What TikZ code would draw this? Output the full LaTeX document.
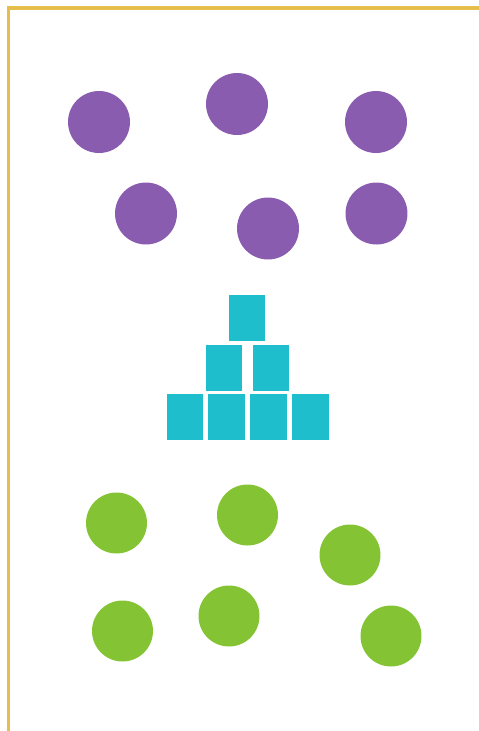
\documentclass[tikz,border=0pt]{standalone}
\usepackage{xcolor}
\usetikzlibrary{positioning}

\definecolor{dotpurple}{RGB}{138,92,175}
\definecolor{boxteal}{RGB}{30,190,205}
\definecolor{dotgreen}{RGB}{132,196,52}
\definecolor{framegold}{RGB}{230,190,75}

\begin{document}
\begin{tikzpicture}[
  x=0.02cm, y=-0.02cm,
  pdot/.style={circle, fill=dotpurple, minimum size=1.24cm, inner sep=0pt},
  gdot/.style={circle, fill=dotgreen, minimum size=1.22cm, inner sep=0pt},
  sq/.style={rectangle, fill=boxteal, minimum width=0.74cm, minimum height=0.92cm, inner sep=0pt},
  node distance=0.6mm and 0.86mm
]
\useasboundingbox (0,0) rectangle (479,731);

% ===== FRAME =====
\draw[framegold, line width=2pt] (8.5,731) -- (8.5,8) -- (479,8);

% ===== PURPLE DOTS =====
\node[pdot] (pu_1) at (99,122) {};
\node[pdot] (pu_2) at (237,104) {};
\node[pdot] (pu_3) at (376,122) {};
\node[pdot] (pu_4) at (146,213.5) {};
\node[pdot] (pu_5) at (268,228.5) {};
\node[pdot] (pu_6) at (376.5,213.5) {};

% ===== SQUARE PYRAMID =====
\node[sq] (sq_b1) at (185,417) {};
\node[sq, right=of sq_b1] (sq_b2) {};
\node[sq, right=of sq_b2] (sq_b3) {};
\node[sq, right=of sq_b3] (sq_b4) {};
\node[sq] (sq_m1) at (224,367.5) {};
\node[sq] (sq_m2) at (271,367.5) {};
\node[sq] (sq_top) at (247,318) {};

% ===== GREEN DOTS =====
\node[gdot] (gr_1) at (116.5,523) {};
\node[gdot] (gr_2) at (247.5,515) {};
\node[gdot] (gr_3) at (350,555) {};
\node[gdot] (gr_4) at (122.5,631) {};
\node[gdot] (gr_5) at (229,616) {};
\node[gdot] (gr_6) at (391,636) {};

\end{tikzpicture}
\end{document}
